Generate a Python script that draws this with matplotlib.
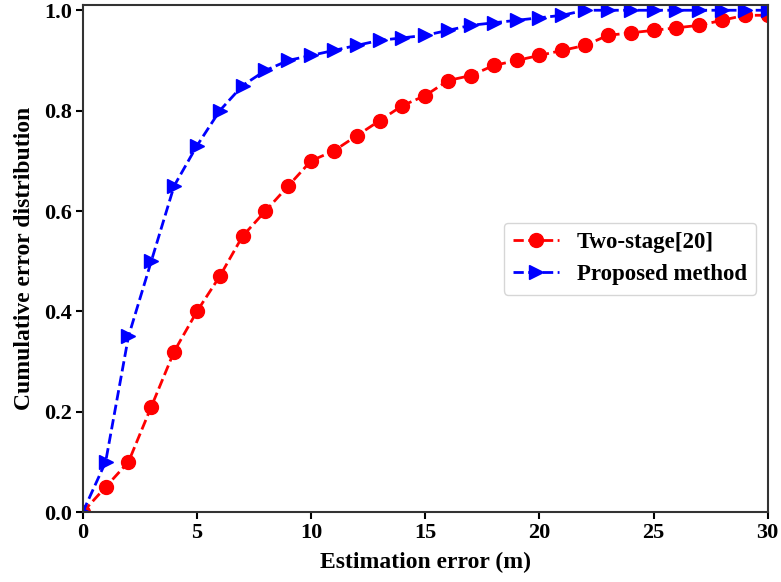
import matplotlib
matplotlib.use("Agg")
import matplotlib.pyplot as plt

plt.rcParams['font.family'] = ['Liberation Serif', 'DejaVu Serif']
plt.rcParams['font.weight'] = 'bold'

x = list(range(0, 31))
two_stage = [0, 0.05, 0.10, 0.21, 0.32, 0.40, 0.47, 0.55, 0.60, 0.65, 0.70,
             0.72, 0.75, 0.78, 0.81, 0.83, 0.86, 0.87, 0.89, 0.90, 0.91,
             0.92, 0.93, 0.95, 0.955, 0.96, 0.965, 0.97, 0.98, 0.99, 0.99]
proposed = [0, 0.10, 0.35, 0.50, 0.65, 0.73, 0.80, 0.85, 0.88, 0.90, 0.91,
            0.92, 0.93, 0.94, 0.945, 0.95, 0.96, 0.97, 0.975, 0.98, 0.985,
            0.99, 1.0, 1.0, 1.0, 1.0, 1.0, 1.0, 1.0, 1.0, 1.0]

fig = plt.figure(figsize=(7.81, 5.82), dpi=100)
ax = fig.add_axes([0.106, 0.120, 0.877, 0.871])
ax.plot(x, two_stage, 'r--', marker='o', markersize=10, linewidth=2, label='Two-stage[20]')
ax.plot(x, proposed, 'b--', marker='>', markersize=10.5, linewidth=2, label='Proposed method')
ax.set_xlim(0, 30)
ax.set_ylim(0, 1.01)
ax.set_xticks([0, 5, 10, 15, 20, 25, 30])
ax.set_yticks([0, 0.2, 0.4, 0.6, 0.8, 1.0])
ax.tick_params(labelsize=16, width=1.5, length=5, pad=3)
for lbl in ax.get_xticklabels() + ax.get_yticklabels():
    lbl.set_fontweight('bold')
for s in ax.spines.values():
    s.set_linewidth(1.5)
    s.set_color('#333333')
ax.set_xlabel('Estimation error (m)', fontsize=17, fontweight='bold', labelpad=6.5)
ax.set_ylabel('Cumulative error distribution', fontsize=17, fontweight='bold', labelpad=6)
leg = ax.legend(loc='center right', prop={'weight': 'bold', 'size': 16.5},
                handlelength=2.0, borderaxespad=0.5)
fig.savefig('out.png', dpi=100)
